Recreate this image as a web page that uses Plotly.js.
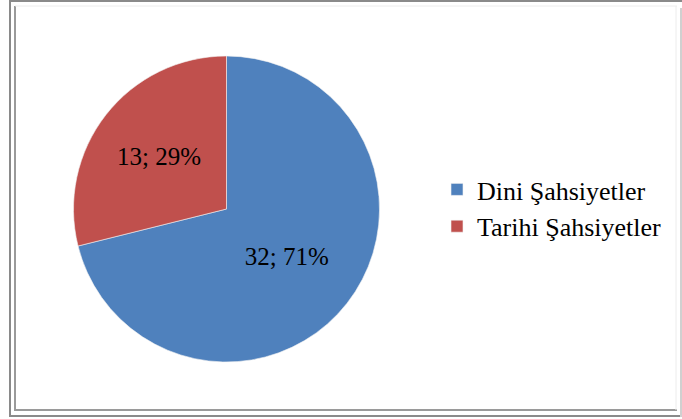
<!DOCTYPE html>
<html>
<head>
<meta charset="utf-8">
<script src="https://cdn.plot.ly/plotly-3.0.1.min.js"></script>
<style>
  body { margin: 0; background: #fff; }
  #plot { width: 682px; height: 419px; }
</style>
</head>
<body>
<div id="plot"></div>
<script>
// slice names and counts
let labels = ["Dini Şahsiyetler", "Tarihi Şahsiyetler"];
let counts = [32, 13];
let sliceColors = ["#4F81BD", "#C0504D"];

let W = 682, H = 419;
// helper: pixel -> paper
function px(x) { return x / W; }
function py(y) { return 1 - y / H; }

let trace1 = {
  type: "pie",
  labels: labels,
  values: counts,
  sort: false,
  direction: "clockwise",
  rotation: 0,
  marker: { colors: sliceColors, line: { color: "#f2f2f2", width: 0.6 } },
  texttemplate: "%{value}; %{percent:.0%}",
  textposition: "inside",
  insidetextorientation: "horizontal",
  textfont: { family: "Liberation Serif, Times New Roman, serif", size: 25, color: "#000" },
  hoverinfo: "none",
  domain: { x: [px(73.5), px(379.5)], y: [py(362), py(56)] }
};

// frame lines round the picture
let frame = [
  { x0: 10, y0: 1, x1: 682, y1: 1, c: "#8a8a8a", w: 2 },
  { x0: 10, y0: 0, x1: 10, y1: 417, c: "#8a8a8a", w: 2 },
  { x0: 10, y0: 416, x1: 682, y1: 416, c: "#8a8a8a", w: 2 },
  { x0: 681, y0: 8, x1: 681, y1: 417, c: "#d0d0d0", w: 2 },
  { x0: 15, y0: 6, x1: 15, y1: 411, c: "#9a9a9a", w: 2 },
  { x0: 15, y0: 410, x1: 677, y1: 410, c: "#9a9a9a", w: 2 },
  { x0: 15, y0: 6, x1: 677, y1: 6, c: "#ececec", w: 1 },
  { x0: 676, y0: 6, x1: 676, y1: 410, c: "#ececec", w: 1 }
];
let shapes = frame.map(f => ({
  type: "line", xref: "paper", yref: "paper",
  x0: px(f.x0), y0: py(f.y0), x1: px(f.x1), y1: py(f.y1),
  line: { color: f.c, width: f.w }
}));

let layout = {
  width: W,
  height: H,
  margin: { l: 0, r: 0, t: 0, b: 0, pad: 0 },
  paper_bgcolor: "#fff",
  showlegend: true,
  legend: {
    x: px(437), y: py(208), xanchor: "left", yanchor: "middle",
    font: { family: "Liberation Serif, Times New Roman, serif", size: 26, color: "#000" },
    bgcolor: "rgba(0,0,0,0)",
    itemclick: false
  },
  shapes: shapes
};

Plotly.newPlot("plot", [trace1], layout, { displayModeBar: false, staticPlot: true });
</script>
</body>
</html>
